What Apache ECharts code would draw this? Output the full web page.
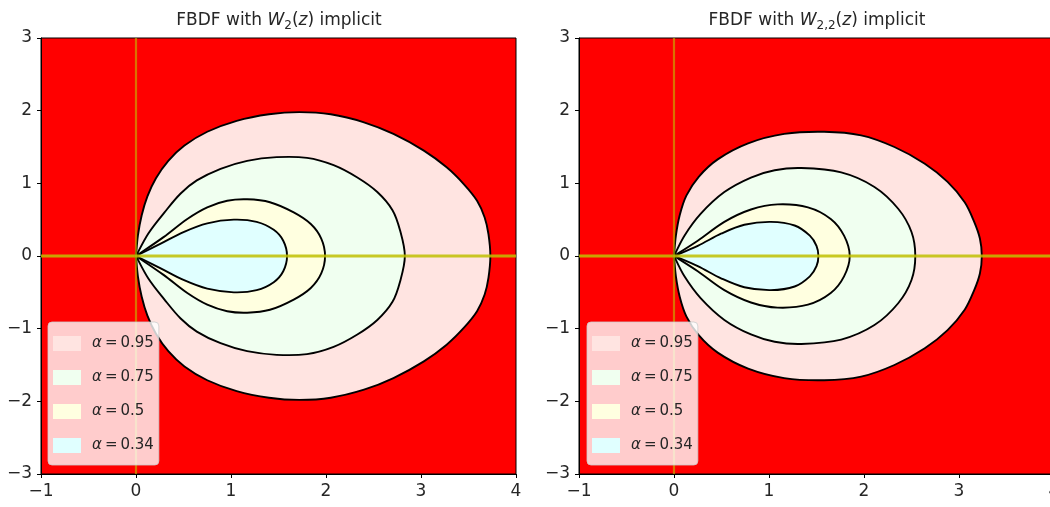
<!DOCTYPE html>
<html>
<head>
<meta charset="utf-8">
<script src="https://cdn.jsdelivr.net/npm/echarts@6/dist/echarts.min.js"></script>
<style>html,body{margin:0;padding:0;background:#fff}#c{width:1050px;height:507px}</style>
</head>
<body>
<div id="c"></div>
<script>
// ---- data ----
const xTicks = [-1, 0, 1, 2, 3, 4];
const yTicks = [-3, -2, -1, 0, 1, 2, 3];
const alphaLabels = ['0.95', '0.75', '0.5', '0.34'];
const fillColors = ['#ffe4e1', '#f0fff0', '#ffffe0', '#e0ffff'];

// left panel: W_2(z) implicit, boundary curves (x, y)
const L95 = [[0,0],[0.02,0.28],[0.06,0.56],[0.12,0.82],[0.21,1.07],[0.34,1.31],[0.51,1.52],[0.75,1.71],[1.06,1.86],[1.40,1.95],[1.72,1.98],[2.05,1.95],[2.40,1.84],[2.71,1.68],[3.03,1.45],[3.27,1.22],[3.45,0.99],[3.59,0.76],[3.67,0.53],[3.71,0.30],[3.73,0],
  [3.71,-0.30],[3.67,-0.53],[3.59,-0.76],[3.45,-0.99],[3.27,-1.22],[3.03,-1.45],[2.71,-1.68],[2.40,-1.84],[2.05,-1.95],[1.72,-1.98],[1.40,-1.95],[1.06,-1.86],[0.75,-1.71],[0.51,-1.52],[0.34,-1.31],[0.21,-1.07],[0.12,-0.82],[0.06,-0.56],[0.02,-0.28],[0,0]];
const L75 = [[0,0],[0.13,0.31],[0.30,0.60],[0.47,0.86],[0.64,1.04],[0.89,1.20],[1.17,1.31],[1.48,1.36],[1.80,1.35],[2.08,1.25],[2.33,1.08],[2.54,0.88],[2.70,0.63],[2.78,0.35],[2.83,0],
  [2.78,-0.35],[2.70,-0.63],[2.54,-0.88],[2.33,-1.08],[2.08,-1.25],[1.80,-1.35],[1.48,-1.36],[1.17,-1.31],[0.89,-1.20],[0.64,-1.04],[0.47,-0.86],[0.30,-0.60],[0.13,-0.31],[0,0]];
const L50 = [[0,0],[0.29,0.26],[0.54,0.51],[0.75,0.67],[0.96,0.76],[1.17,0.78],[1.41,0.74],[1.66,0.60],[1.84,0.44],[1.95,0.24],[1.99,0],
  [1.95,-0.24],[1.84,-0.44],[1.66,-0.60],[1.41,-0.74],[1.17,-0.78],[0.96,-0.76],[0.75,-0.67],[0.54,-0.51],[0.29,-0.26],[0,0]];
const L34 = [[0,0],[0.26,0.17],[0.50,0.33],[0.75,0.45],[1.03,0.50],[1.27,0.47],[1.45,0.36],[1.55,0.21],[1.59,0],
  [1.55,-0.21],[1.45,-0.36],[1.27,-0.47],[1.03,-0.50],[0.75,-0.45],[0.50,-0.33],[0.26,-0.17],[0,0]];

// right panel: W_{2,2}(z) implicit
const R95 = [[0,0],[0.02,0.28],[0.06,0.56],[0.13,0.83],[0.26,1.09],[0.46,1.33],[0.78,1.55],[1.16,1.68],[1.58,1.71],[1.97,1.66],[2.32,1.50],[2.64,1.27],[2.88,1.02],[3.06,0.74],[3.16,0.47],[3.22,0.24],[3.24,0],
  [3.22,-0.24],[3.16,-0.47],[3.06,-0.74],[2.88,-1.02],[2.64,-1.27],[2.32,-1.50],[1.97,-1.66],[1.58,-1.71],[1.16,-1.68],[0.78,-1.55],[0.46,-1.33],[0.26,-1.09],[0.13,-0.83],[0.06,-0.56],[0.02,-0.28],[0,0]];
const R75 = [[0,0],[0.11,0.28],[0.28,0.58],[0.53,0.88],[0.81,1.08],[1.06,1.18],[1.34,1.21],[1.76,1.15],[2.11,0.95],[2.36,0.65],[2.50,0.33],[2.54,0],
  [2.50,-0.33],[2.36,-0.65],[2.11,-0.95],[1.76,-1.15],[1.34,-1.21],[1.06,-1.18],[0.81,-1.08],[0.53,-0.88],[0.28,-0.58],[0.11,-0.28],[0,0]];
const R50 = [[0,0],[0.25,0.21],[0.53,0.47],[0.81,0.64],[1.09,0.71],[1.41,0.67],[1.65,0.51],[1.79,0.28],[1.85,0],
  [1.79,-0.28],[1.65,-0.51],[1.41,-0.67],[1.09,-0.71],[0.81,-0.64],[0.53,-0.47],[0.25,-0.21],[0,0]];
const R34 = [[0,0],[0.25,0.14],[0.50,0.31],[0.74,0.43],[1.02,0.47],[1.27,0.42],[1.43,0.28],[1.50,0.14],[1.52,0],
  [1.50,-0.14],[1.43,-0.28],[1.27,-0.42],[1.02,-0.47],[0.74,-0.43],[0.50,-0.31],[0.25,-0.14],[0,0]];

const vLine = [[0, -3], [0, 3]];
const hLine = [[-1, 0], [4, 0]];

const leftCurves = [L95, L75, L50, L34];
const rightCurves = [R95, R75, R50, R34];

// ---- chart ----
const FONT = 'DejaVu Sans';
const TXT = '#262626';
const names = alphaLabels.map(a => 'α=' + a);
const grids = [
  {left: 41, top: 38, width: 475, height: 436},
  {left: 579, top: 38, width: 475, height: 436}
];
const minus = v => String(v).replace('-', '\u2212');

function axisCommon(i) {
  return {
    gridIndex: i, type: 'value',
    axisLine: {show: true, onZero: false, lineStyle: {color: '#000', width: 1}},
    axisTick: {show: true, inside: false, length: 4, lineStyle: {color: '#000', width: 1}},
    splitLine: {show: false},
    axisLabel: {color: TXT, fontFamily: FONT, fontSize: 17, formatter: minus, showMaxLabel: true, showMinLabel: true}
  };
}

// smooth closed path through pixel points; cusp kept at the first/last point
function smoothPath(P, s) {
  const n = P.length;
  const cpIn = [], cpOut = [];
  for (let i = 0; i < n; i++) {
    const p = P[i];
    if (i === 0) {
      cpOut[i] = [p[0] + (P[1][0] - p[0]) * s * 0.6, p[1] + (P[1][1] - p[1]) * s * 0.6];
      continue;
    }
    if (i === n - 1) {
      cpIn[i] = [p[0] - (p[0] - P[n - 2][0]) * s * 0.6, p[1] - (p[1] - P[n - 2][1]) * s * 0.6];
      continue;
    }
    const prev = P[i - 1], next = P[i + 1];
    const vx = (next[0] - prev[0]) * s, vy = (next[1] - prev[1]) * s;
    let d0 = Math.hypot(p[0] - prev[0], p[1] - prev[1]);
    let d1 = Math.hypot(p[0] - next[0], p[1] - next[1]);
    const sum = d0 + d1 || 1;
    d0 /= sum; d1 /= sum;
    cpIn[i] = [p[0] - vx * d0, p[1] - vy * d0];
    cpOut[i] = [p[0] + vx * d1, p[1] + vy * d1];
  }
  let d = 'M' + P[0][0] + ' ' + P[0][1];
  for (let i = 0; i < n - 1; i++) {
    const a = cpOut[i], b = cpIn[i + 1], q = P[i + 1];
    d += ' C' + a[0] + ' ' + a[1] + ' ' + b[0] + ' ' + b[1] + ' ' + q[0] + ' ' + q[1];
  }
  return d + ' Z';
}

function polySeries(name, pts, color, gi) {
  return {
    type: 'custom', name: name, coordinateSystem: 'cartesian2d',
    xAxisIndex: gi, yAxisIndex: gi, data: pts, encode: {x: 0, y: 1},
    itemStyle: {color: color}, silent: true, z: 2,
    renderItem: function (params, api) {
      if (params.dataIndex !== 0) return null;
      const points = pts.map(p => api.coord(p));
      return {
        type: 'path',
        shape: {pathData: smoothPath(points, 0.34)},
        style: {fill: color, stroke: '#000', lineWidth: 1.9}
      };
    }
  };
}

function lineSeries(data, gi, color, width) {
  return {
    type: 'line', xAxisIndex: gi, yAxisIndex: gi, data: data, symbol: 'none',
    silent: true, z: 3, lineStyle: {color: color, width: width}, animation: false
  };
}

const series = [];
[leftCurves, rightCurves].forEach((curves, gi) => {
  curves.forEach((pts, k) => series.push(polySeries(names[k], pts, fillColors[k], gi)));
  series.push(lineSeries(vLine, gi, 'rgba(191,191,0,0.6)', 2.2));
  series.push(lineSeries(hLine, gi, 'rgba(191,191,0,0.85)', 3));
});

const titleRich = {
  n: {fontFamily: FONT, fontSize: 17, fontWeight: 'normal', color: TXT, lineHeight: 22},
  i: {fontFamily: FONT, fontSize: 17, fontWeight: 'normal', color: TXT, fontStyle: 'italic', lineHeight: 22},
  s: {fontFamily: FONT, fontSize: 12, fontWeight: 'normal', color: TXT, lineHeight: 12, verticalAlign: 'bottom'}
};

const legendRich = {
  i: {fontFamily: FONT, fontSize: 15, color: TXT, fontStyle: 'italic', padding: [0, 0, 0, 6]},
  n: {fontFamily: FONT, fontSize: 15, color: TXT}
};

function legendOpt(left) {
  return {
    left: left, top: 322, orient: 'vertical', icon: 'rect',
    itemWidth: 28, itemHeight: 15, itemGap: 19,
    padding: [14, 5, 12, 5],
    backgroundColor: 'rgba(255,255,255,0.8)',
    borderColor: 'rgba(204,204,204,0.8)', borderWidth: 1, borderRadius: 4,
    selectedMode: false, data: names, z: 10,
    formatter: function (name) {
      return '{i|α}{n|\u2009=\u2009' + name.split('=')[1] + '}';
    },
    textStyle: {rich: legendRich}
  };
}

const option = {
  animation: false,
  backgroundColor: '#fff',
  title: [
    {text: '{n|FBDF with }{i|W}{s|2}{n|(}{i|z}{n|) implicit}', left: 274, top: 5, textAlign: 'center', textStyle: {fontWeight: 'normal', rich: titleRich}},
    {text: '{n|FBDF with }{i|W}{s|2,2}{n|(}{i|z}{n|) implicit}', left: 812, top: 5, textAlign: 'center', textStyle: {fontWeight: 'normal', rich: titleRich}}
  ],
  grid: grids.map(g => Object.assign({show: true, backgroundColor: '#ff0000', borderColor: '#000', borderWidth: 1, outerBoundsMode: 'none', containLabel: false}, g)),
  xAxis: [0, 1].map(i => Object.assign(axisCommon(i), {min: xTicks[0], max: xTicks[xTicks.length - 1], interval: 1})),
  yAxis: [0, 1].map(i => Object.assign(axisCommon(i), {min: yTicks[0], max: yTicks[yTicks.length - 1], interval: 1})),
  legend: [legendOpt(48), legendOpt(587)],
  series: series
};
option.xAxis.forEach(a => a.axisLabel.margin = 9);
option.yAxis.forEach(a => a.axisLabel.margin = 9);

const chart = echarts.init(document.getElementById('c'));
chart.setOption(option);
</script>
</body>
</html>
